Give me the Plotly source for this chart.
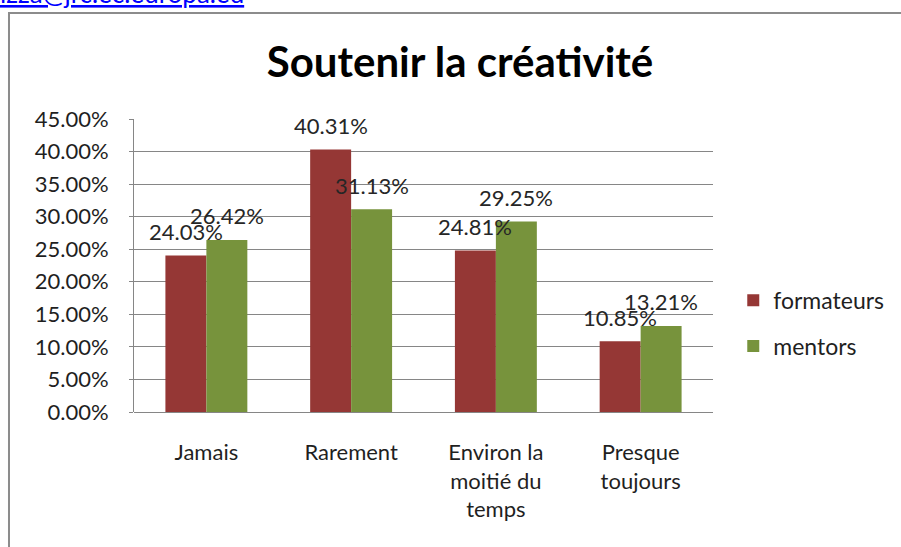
import plotly.graph_objects as go

# Survey results: how often creativity is supported
categories = ["Jamais", "Rarement", "Environ la<br>moitié du<br>temps", "Presque<br>toujours"]
formateurs = [0.2403, 0.4031, 0.2481, 0.1085]
mentors = [0.2642, 0.3113, 0.2925, 0.1321]
series_names = ["formateurs", "mentors"]
series_colors = ["#953735", "#77933C"]

FONT = "Lato, 'Open Sans', sans-serif"
TXT = "#1f1f1f"

fig = go.Figure()
for name, vals, col in zip(series_names, [formateurs, mentors], series_colors):
    fig.add_trace(go.Bar(
        x=categories, y=vals, name=name, marker_color=col,
        marker_line_width=0, legendgroup=name,
    ))

# value labels sitting above each bar
bar_half = 20.5
annotations = []
for vals, sign in [(formateurs, -1), (mentors, 1)]:
    for c, v in zip(categories, vals):
        annotations.append(dict(
            x=c, y=v, xref="x", yref="y", text=f"{v*100:.2f}%",
            showarrow=False, xshift=sign * bar_half, yshift=24,
            font=dict(family=FONT, size=22, color="#262626"),
            xanchor="center", yanchor="middle",
        ))

# e-mail link fragment above the chart frame
annotations.append(dict(
    x=-0.235, y=1.368, xref="paper", yref="paper",
    text="<u>izza@jrc.ec.europa.eu</u>", showarrow=False,
    xanchor="left", yanchor="bottom",
    font=dict(family=FONT, size=26, color="#0000FF"),
))

fig.update_layout(
    width=901, height=547,
    margin=dict(l=134, r=188, t=119, b=135),
    paper_bgcolor="white", plot_bgcolor="white",
    barmode="group", bargap=0.434, bargroupgap=0,
    title=dict(
        text="<b>Soutenir la créativité</b>",
        x=0.563, xref="paper", xanchor="center",
        y=1 - 62 / 547, yref="container", yanchor="middle",
        font=dict(family=FONT, size=42, color="#000000"),
    ),
    font=dict(family=FONT, size=22, color=TXT),
    legend=dict(
        x=1.035, y=0.455, xanchor="left", yanchor="top",
        font=dict(family=FONT, size=23, color=TXT),
        tracegroupgap=13, bgcolor="rgba(0,0,0,0)",
    ),
    annotations=annotations,
    shapes=[dict(
        type="rect", xref="paper", yref="paper",
        x0=-0.2159, x1=1.6, y0=-0.7, y1=1.3618,
        line=dict(color="#8c8c8c", width=2), layer="below",
    )],
)

fig.update_xaxes(
    showgrid=False, showline=False, ticks="",
    ticklabelstandoff=25,
    tickfont=dict(family=FONT, size=22, color=TXT),
)
fig.update_yaxes(
    range=[0, 0.45], dtick=0.05, tickformat=".2%",
    showgrid=True, gridcolor="#868686", gridwidth=1,
    showline=True, linecolor="#868686", linewidth=1,
    zeroline=True, zerolinecolor="#868686", zerolinewidth=1,
    ticks="outside", ticklen=4, tickcolor="#868686",
    ticklabelstandoff=16,
    tickfont=dict(family=FONT, size=22, color=TXT),
)

fig.write_html("out.html")
